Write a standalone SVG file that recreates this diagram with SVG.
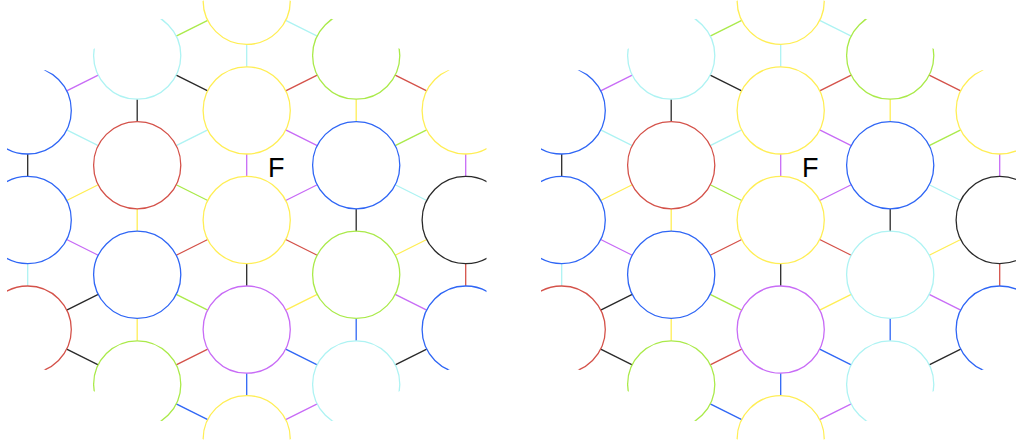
<svg xmlns="http://www.w3.org/2000/svg" width="1016" height="447" viewBox="0 0 1016 447">
<style>
.n{fill:none;stroke-width:1.3}
.e{stroke-width:1.3;fill:none}
.Y{stroke:#ffee55}.G{stroke:#aaea4a}.B{stroke:#2f66f5}.R{stroke:#d4524a}.P{stroke:#c86cf6}.C{stroke:#aef3f3}.K{stroke:#2a2a2a}
.lbl{font-family:"Liberation Sans",Arial,sans-serif;font-size:27px;fill:#000}
</style>
<defs>
<clipPath id="hex" clipPathUnits="userSpaceOnUse">
<polygon points="7,87 246.7,-18.5 486.5,87 486.5,353 246.7,458.5 7,353"/>
</clipPath>
</defs>
<rect width="1016" height="447" fill="#fff"/>

<g id="panel-left">
<g id="left-connectors">
<line class="e G" x1="176.19" y1="36.09" x2="207.71" y2="20.31"/>
<line class="e K" x1="176.19" y1="75.11" x2="207.71" y2="90.89"/>
<line class="e K" x1="137.2" y1="99.2" x2="137.2" y2="121.6"/>
<line class="e P" x1="66.69" y1="90.89" x2="98.21" y2="75.11"/>
<line class="e C" x1="246.7" y1="44.4" x2="246.7" y2="66.8"/>
<line class="e C" x1="66.69" y1="129.91" x2="98.21" y2="145.69"/>
<line class="e C" x1="176.19" y1="145.69" x2="207.71" y2="129.91"/>
<line class="e K" x1="27.7" y1="154" x2="27.7" y2="176.4"/>
<line class="e Y" x1="66.69" y1="200.49" x2="98.21" y2="184.71"/>
<line class="e G" x1="176.19" y1="184.71" x2="207.71" y2="200.49"/>
<line class="e P" x1="246.7" y1="154" x2="246.7" y2="176.4"/>
<line class="e Y" x1="137.2" y1="208.8" x2="137.2" y2="231.2"/>
<line class="e C" x1="285.69" y1="20.31" x2="317.21" y2="36.09"/>
<line class="e R" x1="285.69" y1="90.89" x2="317.21" y2="75.11"/>
<line class="e R" x1="395.19" y1="75.11" x2="426.71" y2="90.89"/>
<line class="e Y" x1="356.2" y1="99.2" x2="356.2" y2="121.6"/>
<line class="e P" x1="285.69" y1="129.91" x2="317.21" y2="145.69"/>
<line class="e G" x1="395.19" y1="145.69" x2="426.71" y2="129.91"/>
<line class="e P" x1="465.7" y1="154" x2="465.7" y2="176.4"/>
<line class="e P" x1="285.69" y1="200.49" x2="317.21" y2="184.71"/>
<line class="e C" x1="395.19" y1="184.71" x2="426.71" y2="200.49"/>
<line class="e K" x1="356.2" y1="208.8" x2="356.2" y2="231.2"/>
<line class="e P" x1="66.69" y1="239.51" x2="98.21" y2="255.29"/>
<line class="e R" x1="176.19" y1="255.29" x2="207.71" y2="239.51"/>
<line class="e K" x1="246.7" y1="263.6" x2="246.7" y2="286"/>
<line class="e C" x1="27.7" y1="263.6" x2="27.7" y2="286"/>
<line class="e K" x1="66.69" y1="310.09" x2="98.21" y2="294.31"/>
<line class="e G" x1="176.19" y1="294.31" x2="207.71" y2="310.09"/>
<line class="e Y" x1="137.2" y1="318.4" x2="137.2" y2="340.8"/>
<line class="e K" x1="66.69" y1="349.11" x2="98.21" y2="364.89"/>
<line class="e R" x1="176.19" y1="364.89" x2="207.71" y2="349.11"/>
<line class="e B" x1="246.7" y1="373.2" x2="246.7" y2="395.6"/>
<line class="e B" x1="176.19" y1="403.91" x2="207.71" y2="419.69"/>
<line class="e R" x1="285.69" y1="239.51" x2="317.21" y2="255.29"/>
<line class="e Y" x1="395.19" y1="255.29" x2="426.71" y2="239.51"/>
<line class="e R" x1="465.7" y1="263.6" x2="465.7" y2="286"/>
<line class="e Y" x1="285.69" y1="310.09" x2="317.21" y2="294.31"/>
<line class="e P" x1="395.19" y1="294.31" x2="426.71" y2="310.09"/>
<line class="e B" x1="356.2" y1="318.4" x2="356.2" y2="340.8"/>
<line class="e B" x1="285.69" y1="349.11" x2="317.21" y2="364.89"/>
<line class="e K" x1="395.19" y1="364.89" x2="426.71" y2="349.11"/>
<line class="e P" x1="285.69" y1="419.69" x2="317.21" y2="403.91"/>
</g>
<g id="left-nodes" clip-path="url(#hex)">
<g id="L-A0"><circle class="n B" cx="27.7" cy="110.4" r="43.6"/></g>
<g id="L-A1"><circle class="n B" cx="27.7" cy="220" r="43.6"/></g>
<g id="L-A2"><circle class="n R" cx="27.7" cy="329.6" r="43.6"/></g>
<g id="L-B0"><circle class="n C" cx="137.2" cy="55.6" r="43.6"/></g>
<g id="L-B1"><circle class="n R" cx="137.2" cy="165.2" r="43.6"/></g>
<g id="L-B2"><circle class="n B" cx="137.2" cy="274.8" r="43.6"/></g>
<g id="L-B3"><circle class="n G" cx="137.2" cy="384.4" r="43.6"/></g>
<g id="L-C0"><circle class="n Y" cx="246.7" cy="0.8" r="43.6"/></g>
<g id="L-C1"><circle class="n Y" cx="246.7" cy="110.4" r="43.6"/></g>
<g id="L-C2"><circle class="n Y" cx="246.7" cy="220" r="43.6"/></g>
<g id="L-C3"><circle class="n P" cx="246.7" cy="329.6" r="43.6"/></g>
<g id="L-C4"><circle class="n Y" cx="246.7" cy="439.2" r="43.6"/></g>
<g id="L-D0"><circle class="n G" cx="356.2" cy="55.6" r="43.6"/></g>
<g id="L-D1"><circle class="n B" cx="356.2" cy="165.2" r="43.6"/></g>
<g id="L-D2"><circle class="n G" cx="356.2" cy="274.8" r="43.6"/></g>
<g id="L-D3"><circle class="n C" cx="356.2" cy="384.4" r="43.6"/></g>
<g id="L-E0"><circle class="n Y" cx="465.7" cy="110.4" r="43.6"/></g>
<g id="L-E1"><circle class="n K" cx="465.7" cy="220" r="43.6"/></g>
<g id="L-E2"><circle class="n B" cx="465.7" cy="329.6" r="43.6"/></g>
</g>
<text class="lbl" x="268" y="176.7">F</text>
</g>

<g id="panel-right" transform="translate(534,0)">
<g id="right-connectors">
<line class="e G" x1="176.19" y1="36.09" x2="207.71" y2="20.31"/>
<line class="e K" x1="176.19" y1="75.11" x2="207.71" y2="90.89"/>
<line class="e K" x1="137.2" y1="99.2" x2="137.2" y2="121.6"/>
<line class="e P" x1="66.69" y1="90.89" x2="98.21" y2="75.11"/>
<line class="e C" x1="246.7" y1="44.4" x2="246.7" y2="66.8"/>
<line class="e C" x1="66.69" y1="129.91" x2="98.21" y2="145.69"/>
<line class="e C" x1="176.19" y1="145.69" x2="207.71" y2="129.91"/>
<line class="e K" x1="27.7" y1="154" x2="27.7" y2="176.4"/>
<line class="e Y" x1="66.69" y1="200.49" x2="98.21" y2="184.71"/>
<line class="e G" x1="176.19" y1="184.71" x2="207.71" y2="200.49"/>
<line class="e P" x1="246.7" y1="154" x2="246.7" y2="176.4"/>
<line class="e Y" x1="137.2" y1="208.8" x2="137.2" y2="231.2"/>
<line class="e C" x1="285.69" y1="20.31" x2="317.21" y2="36.09"/>
<line class="e R" x1="285.69" y1="90.89" x2="317.21" y2="75.11"/>
<line class="e R" x1="395.19" y1="75.11" x2="426.71" y2="90.89"/>
<line class="e Y" x1="356.2" y1="99.2" x2="356.2" y2="121.6"/>
<line class="e P" x1="285.69" y1="129.91" x2="317.21" y2="145.69"/>
<line class="e G" x1="395.19" y1="145.69" x2="426.71" y2="129.91"/>
<line class="e P" x1="465.7" y1="154" x2="465.7" y2="176.4"/>
<line class="e P" x1="285.69" y1="200.49" x2="317.21" y2="184.71"/>
<line class="e C" x1="395.19" y1="184.71" x2="426.71" y2="200.49"/>
<line class="e K" x1="356.2" y1="208.8" x2="356.2" y2="231.2"/>
<line class="e P" x1="66.69" y1="239.51" x2="98.21" y2="255.29"/>
<line class="e R" x1="176.19" y1="255.29" x2="207.71" y2="239.51"/>
<line class="e K" x1="246.7" y1="263.6" x2="246.7" y2="286"/>
<line class="e C" x1="27.7" y1="263.6" x2="27.7" y2="286"/>
<line class="e K" x1="66.69" y1="310.09" x2="98.21" y2="294.31"/>
<line class="e G" x1="176.19" y1="294.31" x2="207.71" y2="310.09"/>
<line class="e Y" x1="137.2" y1="318.4" x2="137.2" y2="340.8"/>
<line class="e K" x1="66.69" y1="349.11" x2="98.21" y2="364.89"/>
<line class="e R" x1="176.19" y1="364.89" x2="207.71" y2="349.11"/>
<line class="e B" x1="246.7" y1="373.2" x2="246.7" y2="395.6"/>
<line class="e B" x1="176.19" y1="403.91" x2="207.71" y2="419.69"/>
<line class="e R" x1="285.69" y1="239.51" x2="317.21" y2="255.29"/>
<line class="e Y" x1="395.19" y1="255.29" x2="426.71" y2="239.51"/>
<line class="e R" x1="465.7" y1="263.6" x2="465.7" y2="286"/>
<line class="e Y" x1="285.69" y1="310.09" x2="317.21" y2="294.31"/>
<line class="e P" x1="395.19" y1="294.31" x2="426.71" y2="310.09"/>
<line class="e B" x1="356.2" y1="318.4" x2="356.2" y2="340.8"/>
<line class="e B" x1="285.69" y1="349.11" x2="317.21" y2="364.89"/>
<line class="e K" x1="395.19" y1="364.89" x2="426.71" y2="349.11"/>
<line class="e P" x1="285.69" y1="419.69" x2="317.21" y2="403.91"/>
</g>
<g id="right-nodes" clip-path="url(#hex)">
<g id="R-A0"><circle class="n B" cx="27.7" cy="110.4" r="43.6"/></g>
<g id="R-A1"><circle class="n B" cx="27.7" cy="220" r="43.6"/></g>
<g id="R-A2"><circle class="n R" cx="27.7" cy="329.6" r="43.6"/></g>
<g id="R-B0"><circle class="n C" cx="137.2" cy="55.6" r="43.6"/></g>
<g id="R-B1"><circle class="n R" cx="137.2" cy="165.2" r="43.6"/></g>
<g id="R-B2"><circle class="n B" cx="137.2" cy="274.8" r="43.6"/></g>
<g id="R-B3"><circle class="n G" cx="137.2" cy="384.4" r="43.6"/></g>
<g id="R-C0"><circle class="n Y" cx="246.7" cy="0.8" r="43.6"/></g>
<g id="R-C1"><circle class="n Y" cx="246.7" cy="110.4" r="43.6"/></g>
<g id="R-C2"><circle class="n Y" cx="246.7" cy="220" r="43.6"/></g>
<g id="R-C3"><circle class="n P" cx="246.7" cy="329.6" r="43.6"/></g>
<g id="R-C4"><circle class="n Y" cx="246.7" cy="439.2" r="43.6"/></g>
<g id="R-D0"><circle class="n G" cx="356.2" cy="55.6" r="43.6"/></g>
<g id="R-D1"><circle class="n B" cx="356.2" cy="165.2" r="43.6"/></g>
<g id="R-D2"><circle class="n C" cx="356.2" cy="274.8" r="43.6"/></g>
<g id="R-D3"><circle class="n C" cx="356.2" cy="384.4" r="43.6"/></g>
<g id="R-E0"><circle class="n Y" cx="465.7" cy="110.4" r="43.6"/></g>
<g id="R-E1"><circle class="n K" cx="465.7" cy="220" r="43.6"/></g>
<g id="R-E2"><circle class="n B" cx="465.7" cy="329.6" r="43.6"/></g>
</g>
<text class="lbl" x="268" y="176.7">F</text>
</g>
</svg>
